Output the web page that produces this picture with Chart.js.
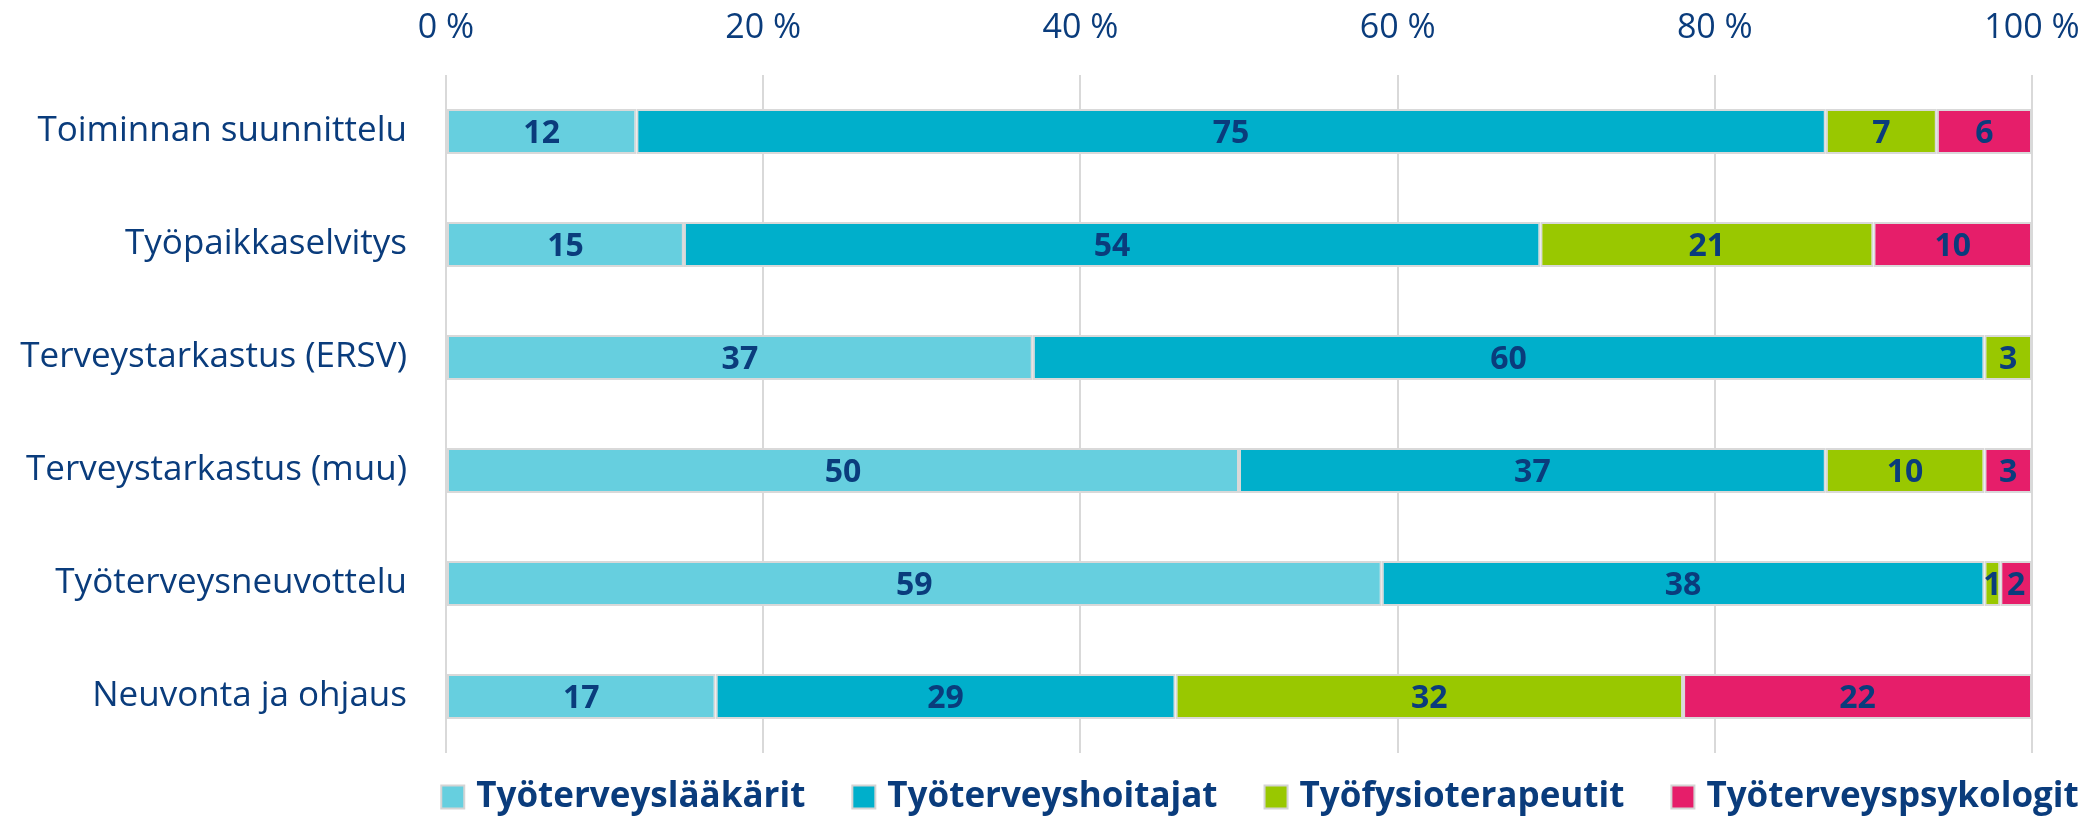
<!DOCTYPE html>
<html>
<head>
<meta charset="utf-8">
<script src="https://cdn.jsdelivr.net/npm/chart.js@4"></script>
<style>
    body { margin: 0; background: #fff; }
    #chart { display: block; }
</style>
</head>
<body>
<canvas id="chart" width="2095" height="818"></canvas>
<script>
// Data
const categories = ['Toiminnan suunnittelu', 'Työpaikkaselvitys', 'Terveystarkastus (ERSV)', 'Terveystarkastus (muu)', 'Työterveysneuvottelu', 'Neuvonta ja ohjaus'];
const seriesNames = ['Työterveyslääkärit', 'Työterveyshoitajat', 'Työfysioterapeutit', 'Työterveyspsykologit'];
const laakarit = [12, 15, 37, 50, 59, 17];
const hoitajat = [75, 54, 60, 37, 38, 29];
const fysioterapeutit = [7, 21, 3, 10, 1, 32];
const psykologit = [6, 10, 0, 3, 2, 22];
const xTickValues = [0, 20, 40, 60, 80, 100];

const colors = ['#66cfdf', '#00afcb', '#99c800', '#e61e6a'];
const textColor = '#0a3c7c';
const fontFamily = '"Open Sans", "Noto Sans", sans-serif';

const series = [laakarit, hoitajat, fysioterapeutit, psykologit];

// Value labels inside segments
const valueLabels = {
    id: 'valueLabels',
    afterDatasetsDraw(chart) {
        const ctx = chart.ctx;
        ctx.save();
        ctx.font = 'bold 32px ' + fontFamily;
        ctx.fillStyle = textColor;
        ctx.textAlign = 'center';
        ctx.textBaseline = 'middle';
        chart.data.datasets.forEach((ds, i) => {
            chart.getDatasetMeta(i).data.forEach((bar, j) => {
                const v = ds.data[j];
                if (!v) return;
                const p = bar.getCenterPoint();
                ctx.fillText(String(v), p.x, p.y + 2);
            });
        });
        ctx.restore();
    }
};

// Legend drawn under the plot
const bottomLegend = {
    id: 'bottomLegend',
    afterDraw(chart) {
        const ctx = chart.ctx;
        const area = chart.chartArea;
        const box = 23, gapText = 12, gapItem = 47, y = 797;
        ctx.save();
        ctx.font = 'bold 35px ' + fontFamily;
        const widths = chart.data.datasets.map(ds => ctx.measureText(ds.label).width);
        const total = widths.reduce((a, w) => a + box + gapText + w, 0) + gapItem * (widths.length - 1);
        let x = (area.left + area.right) / 2 + 21 - total / 2;
        chart.data.datasets.forEach((ds, i) => {
            ctx.fillStyle = ds.backgroundColor;
            ctx.fillRect(x, y - box / 2, box, box);
            ctx.strokeStyle = '#d4d4d4';
            ctx.lineWidth = 2;
            ctx.strokeRect(x, y - box / 2, box, box);
            ctx.fillStyle = textColor;
            ctx.textAlign = 'left';
            ctx.textBaseline = 'middle';
            ctx.fillText(ds.label, x + box + gapText, y);
            x += box + gapText + widths[i] + gapItem;
        });
        ctx.restore();
    }
};

new Chart(document.getElementById('chart'), {
    type: 'bar',
    data: {
        labels: categories,
        datasets: series.map((values, i) => ({
            label: seriesNames[i],
            data: values,
            backgroundColor: colors[i],
            borderColor: '#d9d9d9',
            borderWidth: 2,
            borderSkipped: false,
            categoryPercentage: 1,
            barPercentage: 0.4
        }))
    },
    options: {
        indexAxis: 'y',
        responsive: false,
        animation: false,
        devicePixelRatio: 1,
        layout: { padding: { top: 0, right: 63, bottom: 65, left: 0 } },
        plugins: {
            legend: { display: false },
            tooltip: { enabled: false }
        },
        scales: {
            x: {
                stacked: true,
                position: 'top',
                min: 0,
                max: 100,
                afterBuildTicks: s => { s.ticks = xTickValues.map(v => ({ value: v })); },
                afterFit: s => {
                    s.height = 75;
                    s.paddingLeft = 0;
                    s.paddingRight = 0;
                },
                ticks: {
                    callback: v => v + ' %',
                    color: textColor,
                    font: { family: fontFamily, size: 34 },
                    padding: 26,
                    maxRotation: 0
                },
                grid: { color: '#d9d9d9', lineWidth: 2, drawTicks: false },
                border: { display: false }
            },
            y: {
                stacked: true,
                afterFit: s => { s.width = 446; },
                ticks: {
                    color: textColor,
                    font: { family: fontFamily, size: 35 },
                    padding: 31
                },
                grid: { display: false },
                border: { display: false }
            }
        }
    },
    plugins: [valueLabels, bottomLegend]
});
</script>
</body>
</html>
